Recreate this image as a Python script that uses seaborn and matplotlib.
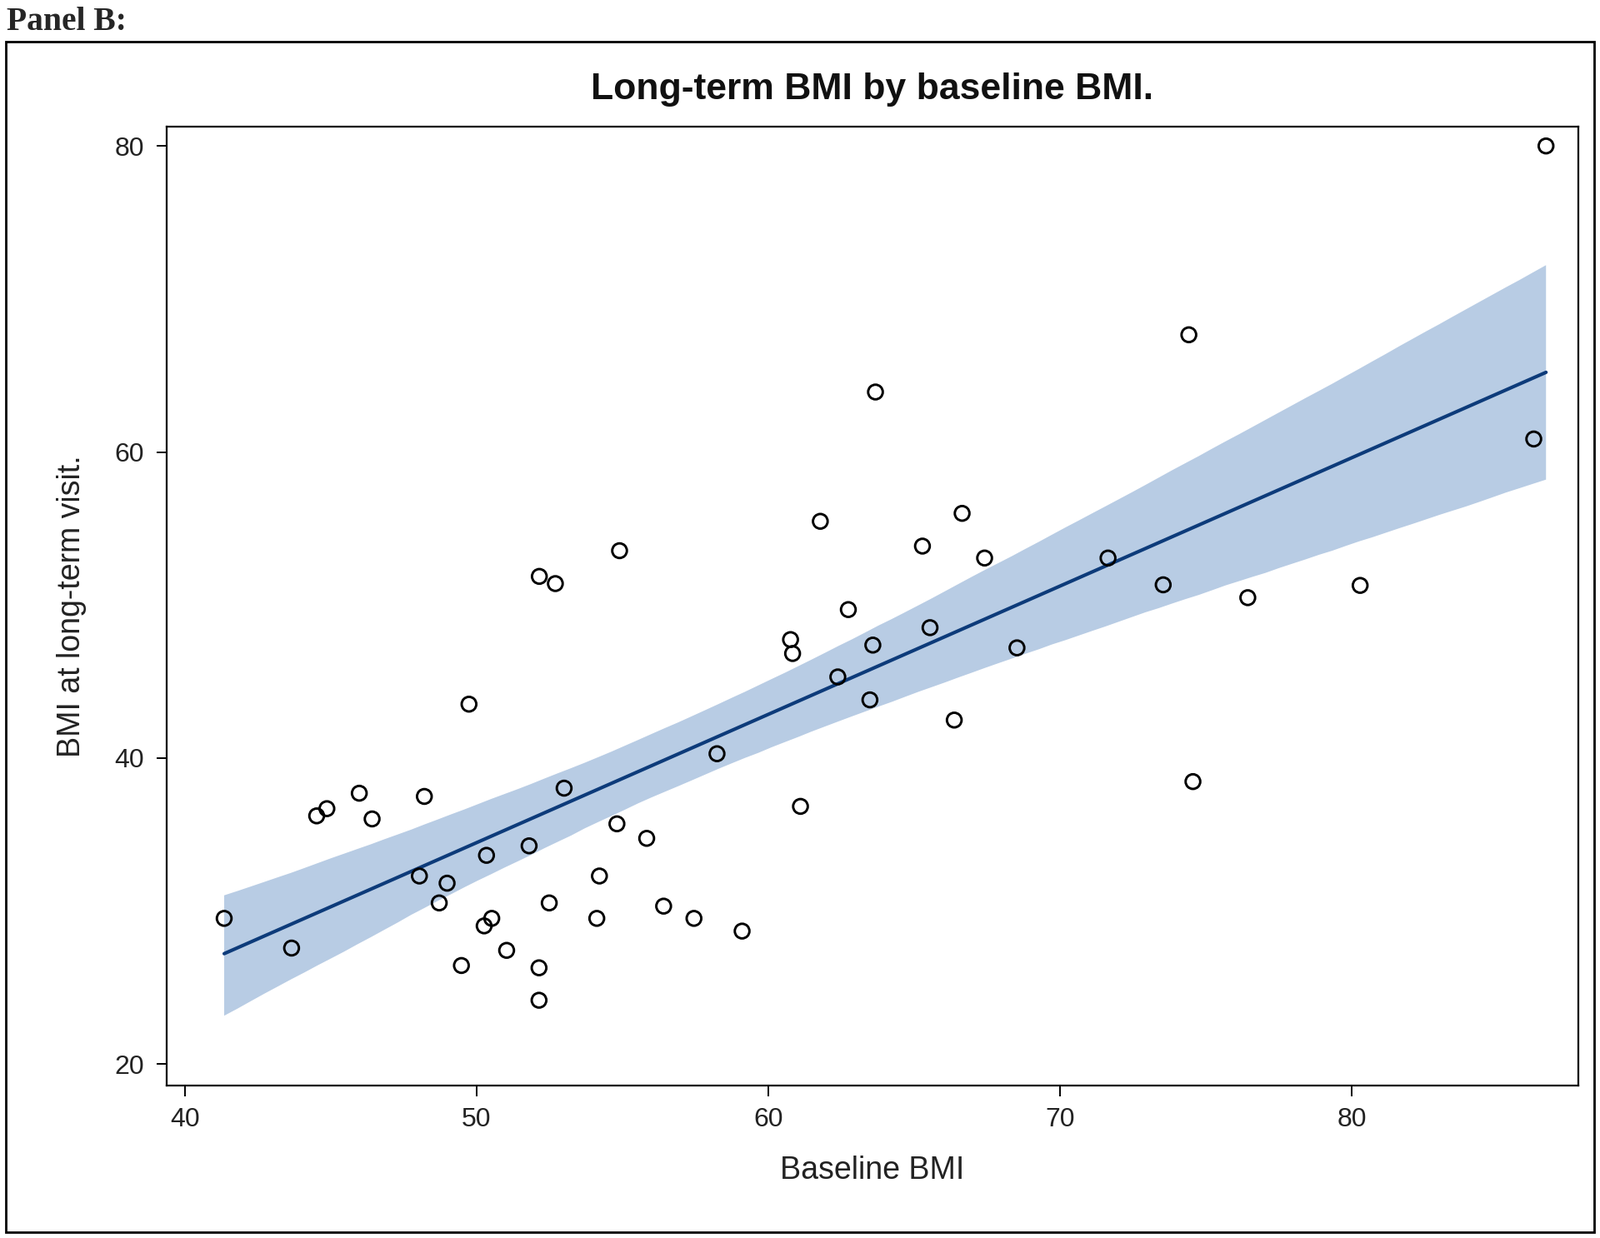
import numpy as np
import pandas as pd
import matplotlib
matplotlib.use('Agg')
import matplotlib.pyplot as plt
from matplotlib.patches import Rectangle
import seaborn as sns

# Baseline BMI (x) and BMI at long-term visit (y)
baseline_bmi = [
    41.35, 43.66, 44.52, 44.87, 45.98, 46.42, 48.21, 48.04, 48.99, 48.72,
    49.74, 49.48, 50.34, 50.26, 50.52, 51.03, 51.80, 52.14, 52.14, 52.49,
    53.00, 54.21, 54.12, 54.81, 55.83, 56.41, 57.45, 58.24, 59.10, 60.76,
    60.83, 61.10, 52.15, 52.70, 54.90, 86.65, 86.23, 74.41, 63.67, 61.78,
    66.64, 65.28, 67.41, 71.64, 73.53, 76.43, 80.28, 62.74, 65.54, 63.58,
    68.52, 62.38, 63.48, 66.37, 74.55,
]
longterm_bmi = [
    29.52, 27.58, 36.22, 36.69, 37.70, 36.02, 37.49, 32.29, 31.82, 30.53,
    43.52, 26.44, 33.64, 29.03, 29.52, 27.43, 34.26, 26.29, 24.17, 30.53,
    38.03, 32.29, 29.52, 35.70, 34.75, 30.32, 29.52, 40.28, 28.69, 47.74,
    46.83, 36.84, 51.87, 51.40, 53.55, 80.00, 60.85, 67.66, 63.92, 55.47,
    55.99, 53.85, 53.07, 53.07, 51.32, 50.48, 51.28, 49.70, 48.52, 47.38,
    47.20, 45.30, 43.80, 42.48, 38.46,
]

x_ticks = [40, 50, 60, 70, 80]
y_ticks = [20, 40, 60, 80]

df = pd.DataFrame({'baseline': baseline_bmi, 'longterm': longterm_bmi})

sns.set_style('white')
plt.rcParams['font.family'] = ['Liberation Sans', 'DejaVu Sans']

fig = plt.figure(figsize=(19.2, 14.86), dpi=100)
ax = fig.add_axes([0.104, 0.1232, 0.8825, 0.7746])

band_color = '#b8cce4'
line_color = '#0d3b7a'

# fit line + 95% CI band
sns.regplot(data=df, x='baseline', y='longterm', ax=ax, scatter=False, ci=95,
            n_boot=5000, seed=1, color=line_color,
            line_kws={'linewidth': 3.0, 'zorder': 3})
for coll in ax.collections:
    coll.set_facecolor(band_color)
    coll.set_edgecolor('none')
    coll.set_alpha(1)
    coll.set_zorder(2)

# open circle markers on top
sns.scatterplot(data=df, x='baseline', y='longterm', ax=ax, s=160,
                facecolors='none', edgecolor='black', linewidth=2.1, zorder=4)

ax.set_xlim(39.37, 87.76)
ax.set_ylim(18.6, 81.27)
ax.set_xticks(x_ticks)
ax.set_yticks(y_ticks)
ax.tick_params(axis='both', direction='out', length=9, width=1.4,
               labelsize=23, color='black', labelcolor='#222222',
               bottom=True, left=True, pad=10)
for sp in ax.spines.values():
    sp.set_visible(True)
    sp.set_linewidth(1.6)
    sp.set_color('black')

ax.set_xlabel('Baseline BMI', fontsize=27, color='#222222', labelpad=20)
ax.set_ylabel('BMI at long-term visit.', fontsize=27, color='#222222', labelpad=24)
ax.set_title('Long-term BMI by baseline BMI.', fontsize=32, fontweight='bold',
             color='#111111', pad=24)

# panel label and outer frame
fig.text(0.004, 0.982, 'Panel B:', fontsize=28.5, fontweight='bold',
         family=['Liberation Serif', 'DejaVu Serif'], va='center', ha='left')
fig.patches.append(Rectangle((0.0038, 0.0046), 0.9924, 0.9616, transform=fig.transFigure,
                             fill=False, edgecolor='black', linewidth=2.0))

fig.savefig('out.png', dpi=100)
